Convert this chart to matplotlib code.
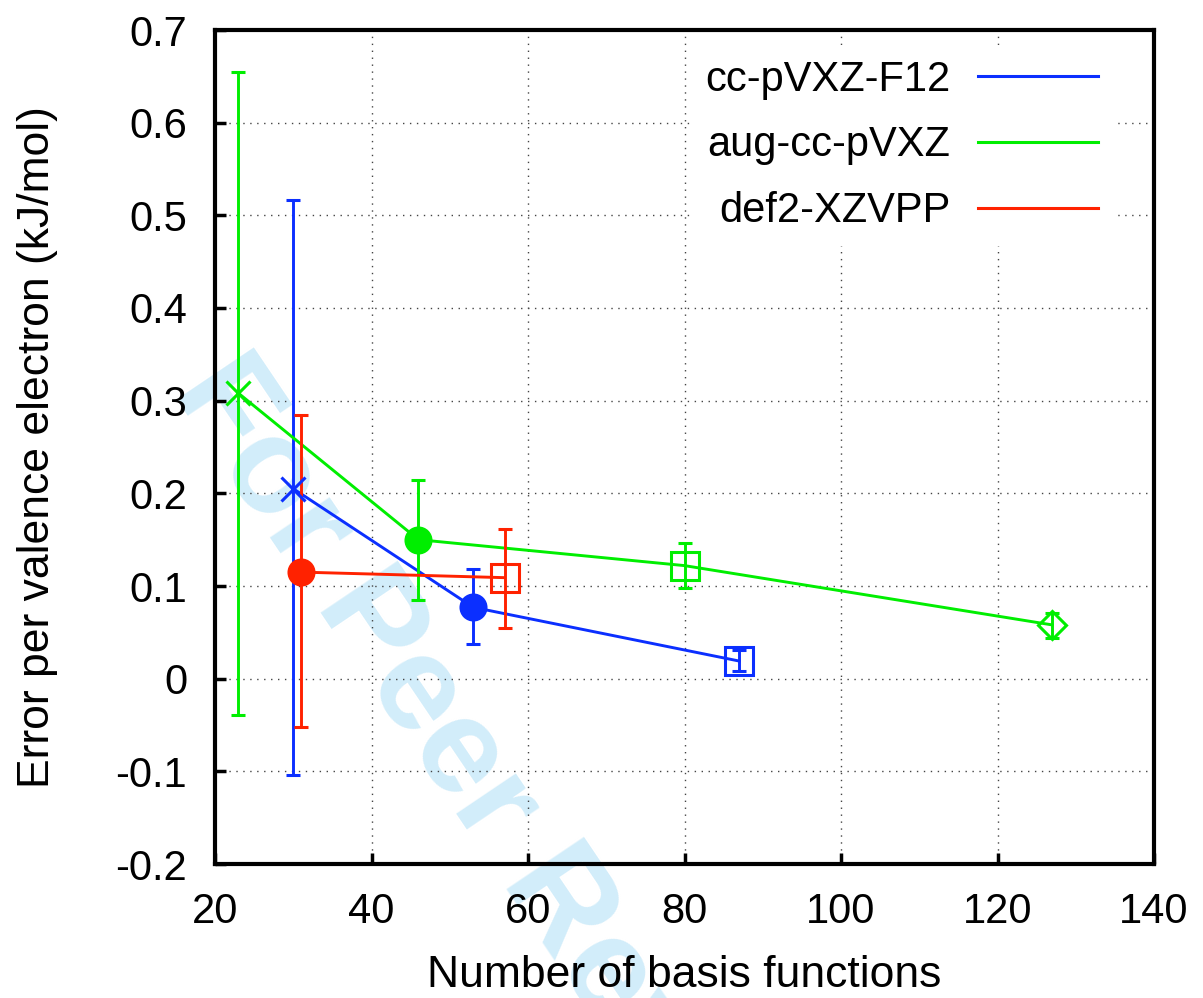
import matplotlib
matplotlib.use("Agg")
import matplotlib.pyplot as plt
from matplotlib.lines import Line2D
import numpy as np

plt.rcParams['font.family'] = ['Liberation Sans', 'DejaVu Sans']

# ---- data ----
series_names = ["cc-pVXZ-F12", "aug-cc-pVXZ", "def2-XZVPP"]

f12_x = [30, 53, 87]
f12_y = [0.205, 0.077, 0.019]
f12_lo = [-0.104, 0.037, 0.008]
f12_hi = [0.517, 0.118, 0.031]
f12_markers = ['x', 'o', 's']

aug_x = [23, 46, 80, 127]
aug_y = [0.308, 0.150, 0.122, 0.058]
aug_lo = [-0.039, 0.085, 0.098, 0.044]
aug_hi = [0.655, 0.214, 0.146, 0.071]
aug_markers = ['x', 'o', 's', 'D']

def2_x = [31, 57]
def2_y = [0.115, 0.109]
def2_lo = [-0.0525, 0.055]
def2_hi = [0.285, 0.162]
def2_markers = ['o', 's']

x_ticks = [20, 40, 60, 80, 100, 120, 140]
y_ticks = [-0.2, -0.1, 0, 0.1, 0.2, 0.3, 0.4, 0.5, 0.6, 0.7]
y_ticklabels = ["-0.2", "-0.1", "0", "0.1", "0.2", "0.3", "0.4", "0.5", "0.6", "0.7"]

colors = ['#0b2fff', '#00ee00', '#ff2200']

W, H = 1203, 998
fig = plt.figure(figsize=(W / 100, H / 100), dpi=100)
ax = fig.add_axes([215 / W, 1 - 864 / H, (1154 - 215) / W, (864 - 30) / H])

# watermark
ax.text(200 / W, 1 - 372 / H, "For Peer Review", transform=fig.transFigure,
        rotation=-56, rotation_mode='anchor', ha='left', va='center',
        fontsize=98, fontweight='bold', color='#d2edfa', zorder=0.5,
        clip_on=False)

msize = {'x': 17, 'o': 18, 's': 20, 'D': 14}

def draw_series(xs, ys, lo, hi, markers, color):
    ax.plot(xs, ys, color=color, lw=2.1, zorder=3)
    for xv, yv, l, h, m in zip(xs, ys, lo, hi, markers):
        filled = (m == 'o')
        ax.errorbar([xv], [yv], yerr=[[yv - l], [h - yv]], fmt=m, color=color,
                    ms=msize[m], mfc=color if filled else 'none', mec=color,
                    mew=2.2, elinewidth=2.1, capsize=5, capthick=2.1, zorder=3)

draw_series(f12_x, f12_y, f12_lo, f12_hi, f12_markers, colors[0])
draw_series(aug_x, aug_y, aug_lo, aug_hi, aug_markers, colors[1])
draw_series(def2_x, def2_y, def2_lo, def2_hi, def2_markers, colors[2])

ax.set_xlim(20, 140)
ax.set_ylim(-0.2, 0.7)
ax.set_xticks(x_ticks)
ax.set_yticks(y_ticks)
ax.set_yticklabels(y_ticklabels)
ax.tick_params(direction='in', length=8, width=2.5, labelsize=30, pad=20,
               top=False, right=False)
ax.grid(True, color='#444444', lw=1.0, linestyle=(0, (1, 4)))
ax.set_axisbelow(True)
for s in ax.spines.values():
    s.set_linewidth(3)

ax.set_xlabel("Number of basis functions", fontsize=32, labelpad=17)
ax.set_ylabel("Error per valence electron (kJ/mol)", fontsize=32)
ax.yaxis.set_label_coords((58 - 215) / (1154 - 215), 0.5)

handles = [Line2D([0], [0], color=c, lw=2.2) for c in colors]
leg = ax.legend(handles, series_names, loc='upper right',
                bbox_to_anchor=(1113 / W, 1 - 45 / H), bbox_transform=fig.transFigure,
                markerfirst=False, frameon=True, fancybox=False, fontsize=30,
                handlelength=2.9, handletextpad=0.65, labelspacing=0.62,
                borderpad=0.35, borderaxespad=0)
leg.get_frame().set_edgecolor('none')
leg.get_frame().set_facecolor('white')
leg.get_frame().set_alpha(1)
leg.set_zorder(2.7)

fig.savefig("out.png", dpi=100)
